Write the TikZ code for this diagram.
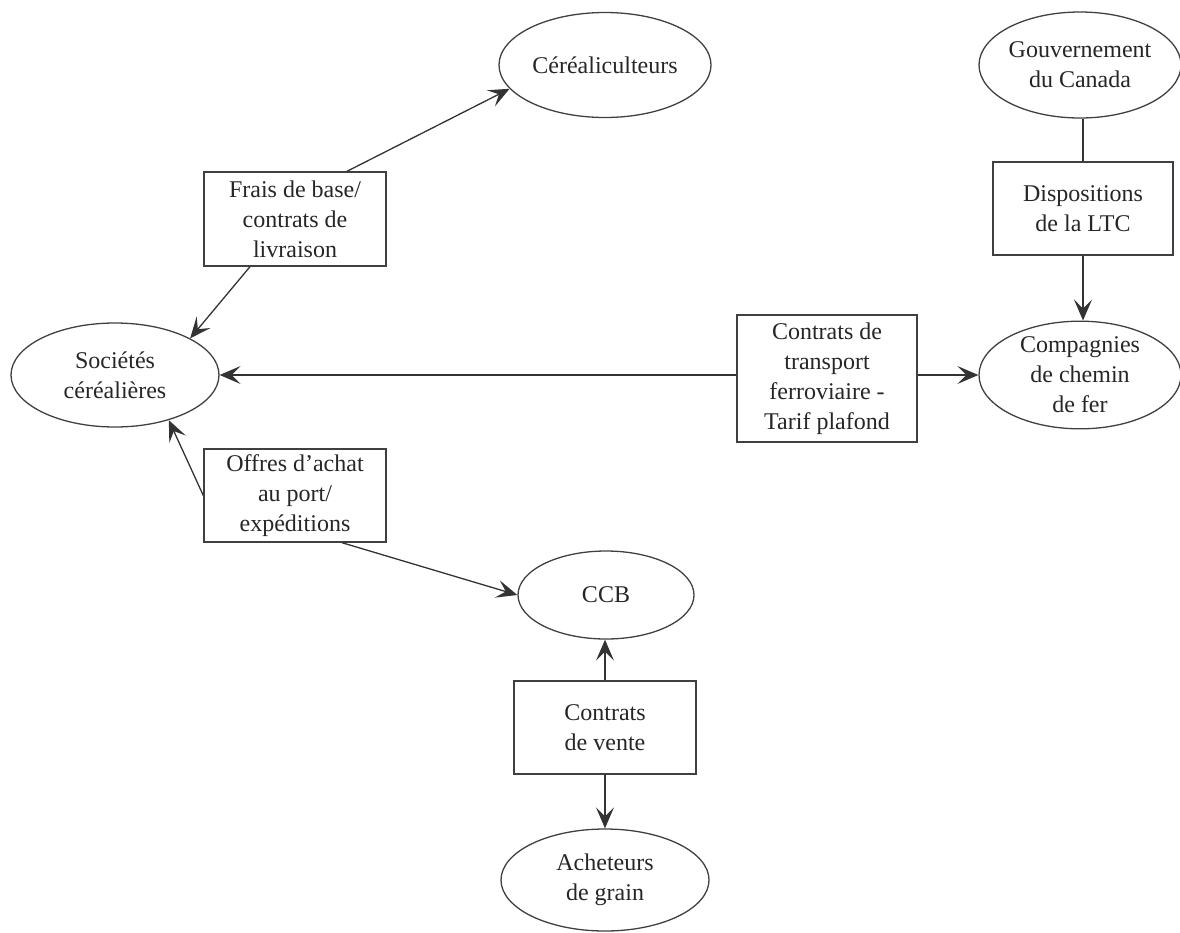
\documentclass[tikz,border=0pt]{standalone}
\usepackage{fontspec}
\setmainfont{Liberation Serif}
\usetikzlibrary{shapes.geometric,arrows.meta,calc}
\begin{document}
\begin{tikzpicture}[x=1pt,y=-1pt,
  every node/.style={font=\fontsize{24}{30}\selectfont, text=black!85, align=center, inner sep=0pt},
  oval/.style={ellipse, draw=black!75, line width=1.3pt},
  box/.style={rectangle, draw=black!75, line width=1.4pt},
  conn/.style={draw=black!80, line width=1.3pt},
  arr/.style={conn, -{Stealth[length=21pt,width=18pt,inset=9pt]}}]
\useasboundingbox (0,0) rectangle (1180,932);
% ovals
\node[oval, minimum width=212, minimum height=105] (cer) at (605,65) {Céréaliculteurs};
\node[oval, minimum width=202, minimum height=106] (gov) at (1080,65) {Gouvernement\\du Canada};
\node[oval, minimum width=208, minimum height=104] (soc) at (115,375) {Sociétés\\céréalières};
\node[oval, minimum width=202, minimum height=104] (comp) at (1080,375) {Compagnies\\de chemin\\de fer};
\node[oval, minimum width=176, minimum height=88] (ccb) at (606,595) {CCB};
\node[oval, minimum width=208, minimum height=102] (ach) at (605,880) {Acheteurs\\de grain};
% boxes
\node[box, minimum width=182, minimum height=94] (frais) at (295,219) {Frais de base/\\contrats de\\livraison};
\node[box, minimum width=180, minimum height=93] (disp) at (1083,208.5) {Dispositions\\de la LTC};
\node[box, minimum width=180, minimum height=127] (contr) at (827,378.5) {Contrats de\\transport\\ferroviaire -\\Tarif plafond};
\node[box, minimum width=182, minimum height=93] (offres) at (295,495.5) {Offres d'achat\\au port/\\expéditions};
\node[box, minimum width=182, minimum height=93] (vente) at (605,727.5) {Contrats\\de vente};
% connectors
\draw[arr] ([xshift=52]frais.north) -- (cer.194);
\draw[arr] ([xshift=-45]frais.south) -- (soc.26);
\draw[arr] (soc.east -| contr.west) -- (soc.east);
\draw[arr] (comp.west -| contr.east) -- (comp.west);
\draw[conn] (gov.south -| disp.north) -- (disp.north);
\draw[arr] (disp.south) -- (disp.south |- comp.north);
\draw[arr] (offres.west) -- (soc.320);
\draw[arr] ([xshift=47]offres.south) -- (ccb.west);
\draw[arr] (vente.north) -- (vente.north |- ccb.south);
\draw[arr] (vente.south) -- (vente.south |- ach.north);
\end{tikzpicture}
\end{document}
